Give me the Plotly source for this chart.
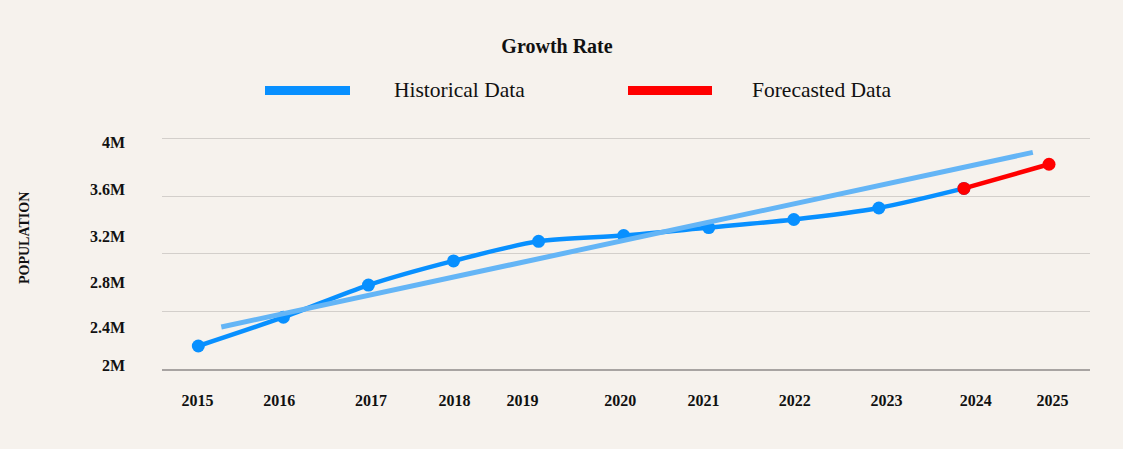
import plotly.graph_objects as go

# ---------------- data ----------------
historical_years = [2015, 2016, 2017, 2018, 2019, 2020, 2021, 2022, 2023, 2024]
historical_pop = [2_200_000, 2_450_000, 2_730_000, 2_940_000, 3_110_000,
                  3_160_000, 3_230_000, 3_300_000, 3_400_000, 3_570_000]
forecast_years = [2024, 2025]
forecast_pop = [3_570_000, 3_780_000]
trend_years = [2015.27, 2024.81]
trend_pop = [2_365_000, 3_883_000]

x_tick_labels = ["2015", "2016", "2017", "2018", "2019", "2020",
                 "2021", "2022", "2023", "2024", "2025"]
x_tick_pos = [2014.99, 2015.95, 2017.03, 2018.01, 2018.81, 2019.96,
              2020.94, 2022.01, 2023.09, 2024.14, 2025.04]
y_tick_labels = ["2M", "2.4M", "2.8M", "3.2M", "3.6M", "4M"]
y_tick_pos = [2_029_000, 2_362_000, 2_757_000, 3_153_000, 3_562_000, 3_968_000]
y_grid_vals = [2_000_000, 2_500_000, 3_000_000, 3_500_000, 4_000_000]

# ---------------- style ----------------
BG = "#f6f2ed"
BLUE = "#0890ff"
TREND = "#64b5f6"
RED = "#ff0000"
FONT = "Liberation Serif"
TXT = "#111111"

W, H = 1123, 449
ML, MR, MT, MB = 162, 33, 130, 80
X_RANGE = [2014.573, 2025.482]
Y_RANGE = [2_000_000, 4_078_000]

fig = go.Figure()

fig.add_trace(go.Scatter(
    x=trend_years, y=trend_pop, mode="lines", name="Trend",
    line=dict(color=TREND, width=5), yaxis="y2", showlegend=False,
    hoverinfo="skip"))

fig.add_trace(go.Scatter(
    x=historical_years, y=historical_pop, mode="lines+markers",
    name="Historical Data",
    line=dict(color=BLUE, width=4.5, shape="spline", smoothing=0.8),
    marker=dict(color=BLUE, size=13), showlegend=False))

fig.add_trace(go.Scatter(
    x=forecast_years, y=forecast_pop, mode="lines+markers",
    name="Forecasted Data",
    line=dict(color=RED, width=4.5),
    marker=dict(color=RED, size=13), showlegend=False))


def px_x(px):
    return (px - ML) / (W - ML - MR)


def px_y(py):
    return (H - MB - py) / (H - MT - MB)


legend_items = [("Historical Data", BLUE, 265, 350, 392),
                ("Forecasted Data", RED, 628, 712, 750)]
shapes = []
annotations = []
for label, col, x0, x1, tx in legend_items:
    shapes.append(dict(type="rect", xref="paper", yref="paper",
                       x0=px_x(x0), x1=px_x(x1), y0=px_y(95), y1=px_y(86),
                       fillcolor=col, line=dict(width=0)))
    annotations.append(dict(text=label, xref="paper", yref="paper",
                            x=px_x(tx), y=px_y(90), xanchor="left",
                            yanchor="middle", showarrow=False,
                            font=dict(family=FONT, size=21.5, color=TXT)))

annotations.append(dict(text="POPULATION", xref="paper", yref="paper",
                        x=px_x(24), y=px_y(238), xanchor="center",
                        yanchor="middle", textangle=-90, showarrow=False,
                        font=dict(family=FONT, size=14, color=TXT,
                                  weight="bold")))

fig.update_layout(
    width=W, height=H,
    margin=dict(l=ML, r=MR, t=MT, b=MB, pad=0),
    paper_bgcolor=BG, plot_bgcolor=BG,
    showlegend=False,
    title=dict(text="Growth Rate", x=557 / W, xref="container",
               y=1 - 46 / H, yref="container", xanchor="center",
               yanchor="middle",
               font=dict(family=FONT, size=20, color=TXT, weight="bold")),
    xaxis=dict(range=X_RANGE, tickvals=x_tick_pos, ticktext=x_tick_labels,
               showgrid=False, zeroline=False, showline=True,
               linecolor="#a8a4a2", linewidth=1.5, ticks="",
               ticklabelstandoff=16, automargin=False,
               tickfont=dict(family=FONT, size=16, color=TXT, weight="bold")),
    yaxis=dict(range=Y_RANGE, tickvals=y_grid_vals, showticklabels=False,
               showgrid=True, gridcolor="#d3cfcb", gridwidth=1,
               zeroline=False, showline=False, ticks="", automargin=False),
    yaxis2=dict(range=Y_RANGE, overlaying="y", side="left",
                tickvals=y_tick_pos, ticktext=y_tick_labels,
                showgrid=False, zeroline=False, showline=False, ticks="",
                ticklabelstandoff=36, automargin=False,
                tickfont=dict(family=FONT, size=16, color=TXT, weight="bold")),
    shapes=shapes,
    annotations=annotations,
)

fig.write_html(
    "out.html",
    config={"displayModeBar": False},
    post_script=("document.body.style.margin='0';"
                 "document.body.style.background='" + BG + "';"),
)
